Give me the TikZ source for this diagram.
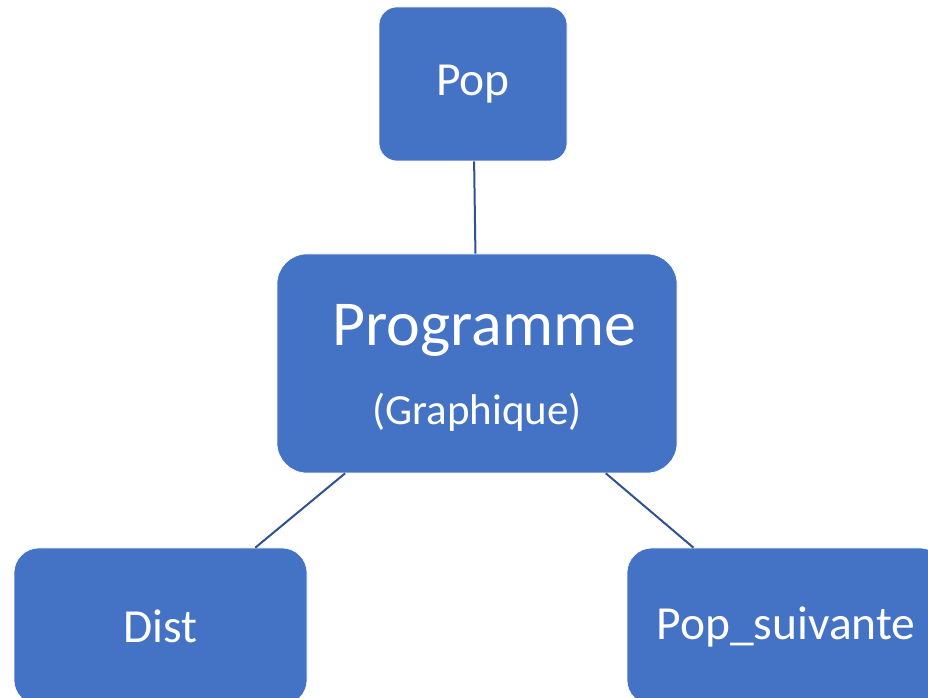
\documentclass[tikz,border=0pt]{standalone}
\usepackage{fontspec}
\setmainfont{Carlito}
\usetikzlibrary{positioning}
\definecolor{bleu}{HTML}{4472C4}
\definecolor{bleufonce}{HTML}{2F528F}

\begin{document}
\begin{tikzpicture}[
  x=1pt, y=1pt,
  bloc/.style={rectangle, fill=bleu, draw=white, line width=0.6pt, text=white, inner sep=0pt},
  moyen/.style={font=\fontsize{47.5}{55}\selectfont},
  petit/.style={font=\fontsize{43}{50}\selectfont},
  grand/.style={font=\fontsize{64}{72}\selectfont},
  lien/.style={draw=bleufonce, line width=2pt}
]
  \clip (0,0) rectangle (928,698);
  \node[bloc, moyen, minimum width=188, minimum height=154, rounded corners=18] (pop) at (473,614) {Pop};
  \node[bloc, minimum width=400, minimum height=219, rounded corners=30] (prog) at (477,334.5) {};
  \node[text=white, grand, inner sep=0pt, anchor=base] (progtitre) at (484,352) {Programme};
  \node[text=white, petit, inner sep=0pt, anchor=base] (progsous) at (477,273) {(Graphique)};
  \node[bloc, moyen, minimum width=293, minimum height=157, rounded corners=25] (dist) at (160.5,71.5) {Dist};
  \node[bloc, moyen, minimum width=318, minimum height=157, rounded corners=25] (suiv) at (786,71.5) {Pop\_suivante};

  \draw[lien] (pop) -- (prog);
  \draw[lien] (prog) -- (dist);
  \draw[lien] (prog) -- (suiv);
\end{tikzpicture}
\end{document}
